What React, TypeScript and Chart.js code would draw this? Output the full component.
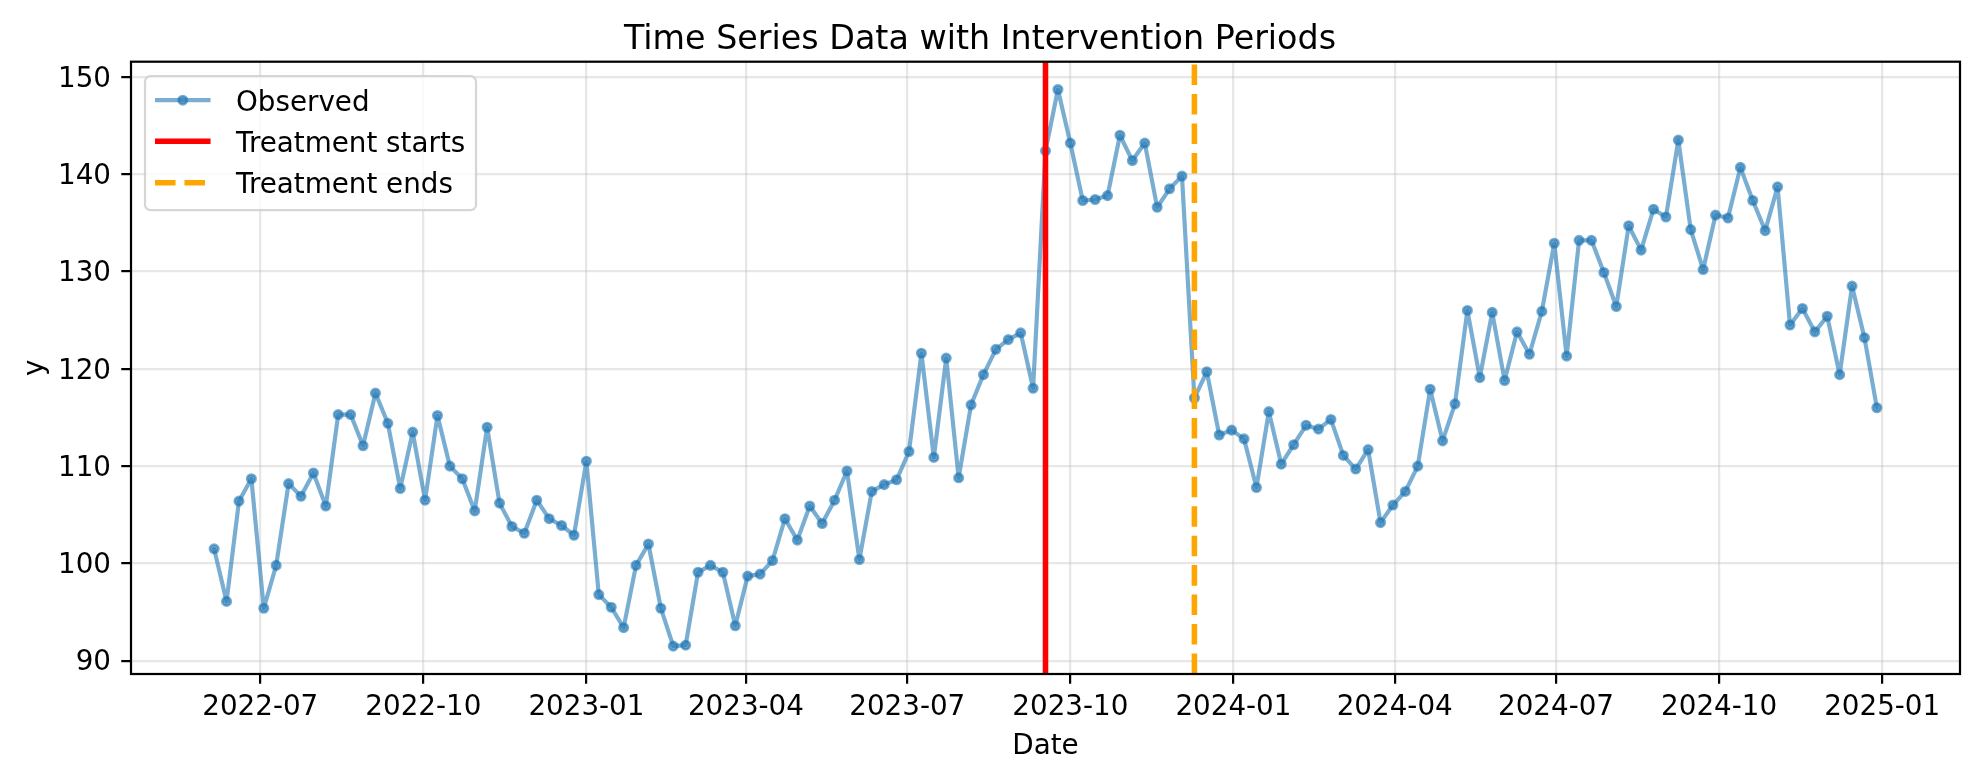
import React, { useEffect, useRef } from "react";
import { Chart, registerables } from "chart.js";

Chart.register(...registerables);

// ---------- data ----------
const START_DATE = "2022-06-05"; // weekly (Sundays)
const OBSERVED = [
  101.5, 96.1, 106.4, 108.7, 95.4, 99.8, 108.2, 106.9, 109.3, 105.9,
  115.3, 115.3, 112.1, 117.5, 114.4, 107.7, 113.5, 106.5, 115.2, 110.0,
  108.7, 105.4, 114.0, 106.2, 103.8, 103.1, 106.5, 104.6, 103.9, 102.9,
  110.5, 96.8, 95.5, 93.4, 99.8, 102.0, 95.4, 91.5, 91.6, 99.1,
  99.8, 99.1, 93.6, 98.7, 98.9, 100.3, 104.6, 102.4, 105.9, 104.1,
  106.5, 109.5, 100.4, 107.4, 108.1, 108.6, 111.5, 121.6, 110.9, 121.1,
  108.8, 116.3, 119.4, 122.0, 123.0, 123.7, 118.0, 142.4, 148.7, 143.2,
  137.3, 137.4, 137.8, 144.0, 141.4, 143.2, 136.6, 138.5, 139.8, 117.0,
  119.7, 113.2, 113.7, 112.8, 107.8, 115.6, 110.2, 112.2, 114.2, 113.8,
  114.8, 111.1, 109.7, 111.7, 104.2, 106.0, 107.4, 110.0, 117.9, 112.6,
  116.4, 126.0, 119.1, 125.8, 118.8, 123.8, 121.5, 125.9, 132.9, 121.3,
  133.2, 133.2, 129.9, 126.4, 134.7, 132.2, 136.4, 135.6, 143.5, 134.3,
  130.2, 135.8, 135.5, 140.7, 137.3, 134.2, 138.7, 124.5, 126.2, 123.8,
  125.4, 119.4, 128.5, 123.2, 116.0,
];
const TREATMENT_START = "2023-09-17";
const TREATMENT_END = "2023-12-10";
const X_TICK_LABELS = [
  "2022-07", "2022-10", "2023-01", "2023-04", "2023-07", "2023-10",
  "2024-01", "2024-04", "2024-07", "2024-10", "2025-01",
];
const Y_TICKS = [90, 100, 110, 120, 130, 140, 150];

const TITLE = "Time Series Data with Intervention Periods";
const X_LABEL = "Date";
const Y_LABEL = "y";
const LEGEND_LABELS = ["Observed", "Treatment starts", "Treatment ends"];

// ---------- helpers ----------
const DAY = 86400000;
const PT = 200 / 72;
const FONT = "'DejaVu Sans', 'Noto Sans', sans-serif";
const toMs = (s: string) => {
  const p = s.split("-").map(Number);
  return Date.UTC(p[0], p[1] - 1, p[2] || 1);
};
const DATES = OBSERVED.map((_, i) => toMs(START_DATE) + i * 7 * DAY);
const X_TICKS = X_TICK_LABELS.map(toMs);

const xSpan = DATES[DATES.length - 1] - DATES[0];
const X_MIN = DATES[0] - 0.05 * xSpan;
const X_MAX = DATES[DATES.length - 1] + 0.05 * xSpan;
const yLo = Math.min(...OBSERVED);
const yHi = Math.max(...OBSERVED);
const Y_MIN = yLo - 0.05 * (yHi - yLo);
const Y_MAX = yHi + 0.05 * (yHi - yLo);

const BLUE = "rgba(31,119,180,0.6)";
const RED = "#ff0000";
const ORANGE = "#ffa500";
const DASH = [3.7 * 2 * PT, 1.6 * 2 * PT];

const framePlugin = {
  id: "mplFrame",
  afterDatasetsDraw(chart: any) {
    const { ctx, chartArea: a } = chart;
    ctx.save();
    ctx.strokeStyle = "#000";
    ctx.lineWidth = 0.8 * PT;
    ctx.strokeRect(a.left, a.top, a.right - a.left, a.bottom - a.top);
    ctx.restore();
  },
};

const legendPlugin = {
  id: "mplLegend",
  afterDraw(chart: any) {
    const { ctx, chartArea: a } = chart;
    const fs = 10 * PT;
    const x0 = a.left + 14;
    const y0 = a.top + 14.5;
    const w = 331;
    const h = 134;
    ctx.save();
    ctx.beginPath();
    ctx.roundRect(x0, y0, w, h, 0.2 * fs);
    ctx.fillStyle = "rgba(255,255,255,0.8)";
    ctx.fill();
    ctx.strokeStyle = "rgba(204,204,204,0.8)";
    ctx.lineWidth = 0.8 * PT;
    ctx.stroke();

    const hx0 = x0 + 10;
    const hx1 = hx0 + 2 * fs;
    const tx = x0 + 91;
    const rows = [y0 + 27.5, y0 + 68.5, y0 + 110];

    // Observed
    ctx.lineJoin = "round";
    ctx.strokeStyle = BLUE;
    ctx.lineWidth = 1.5 * PT;
    ctx.beginPath();
    ctx.moveTo(hx0, rows[0] - 3.5);
    ctx.lineTo(hx1, rows[0] - 3.5);
    ctx.stroke();
    ctx.beginPath();
    ctx.arc((hx0 + hx1) / 2, rows[0] - 3.5, 4.15, 0, Math.PI * 2);
    ctx.fillStyle = BLUE;
    ctx.fill();
    ctx.lineWidth = 2.8;
    ctx.stroke();

    // Treatment starts
    ctx.strokeStyle = RED;
    ctx.lineWidth = 2 * PT;
    ctx.beginPath();
    ctx.moveTo(hx0, rows[1] - 3.5);
    ctx.lineTo(hx1, rows[1] - 3.5);
    ctx.stroke();

    // Treatment ends
    ctx.strokeStyle = ORANGE;
    ctx.setLineDash(DASH);
    ctx.beginPath();
    ctx.moveTo(hx0, rows[2] - 3.5);
    ctx.lineTo(hx1, rows[2] - 3.5);
    ctx.stroke();
    ctx.setLineDash([]);

    ctx.fillStyle = "#000";
    ctx.font = `${fs}px ${FONT}`;
    ctx.textBaseline = "middle";
    ctx.textAlign = "left";
    LEGEND_LABELS.forEach((t, i) => ctx.fillText(t, tx, rows[i]));
    ctx.restore();
  },
};

export default function App() {
  const ref = useRef<HTMLCanvasElement | null>(null);

  useEffect(() => {
    document.body.style.margin = "0";
    const canvas = ref.current;
    if (!canvas) return;
    const gridColor = "rgba(176,176,176,0.3)";
    const tickFont = { family: FONT, size: 10 * PT, weight: "normal" as const };

    const chart = new Chart(canvas, {
      type: "line",
      data: {
        datasets: [
          {
            label: LEGEND_LABELS[0],
            data: DATES.map((d, i) => ({ x: d, y: OBSERVED[i] })),
            borderColor: BLUE,
            backgroundColor: BLUE,
            borderWidth: 1.5 * PT,
            borderJoinStyle: "round",
            borderCapStyle: "round",
            pointRadius: 4.15,
            pointBorderWidth: 2.8,
            pointBackgroundColor: BLUE,
            pointBorderColor: BLUE,
            tension: 0,
            order: 2,
          },
          {
            label: LEGEND_LABELS[1],
            data: [
              { x: toMs(TREATMENT_START), y: Y_MIN },
              { x: toMs(TREATMENT_START), y: Y_MAX },
            ],
            borderColor: RED,
            borderWidth: 2 * PT,
            pointRadius: 0,
            order: 1,
          },
          {
            label: LEGEND_LABELS[2],
            data: [
              { x: toMs(TREATMENT_END), y: Y_MIN },
              { x: toMs(TREATMENT_END), y: Y_MAX },
            ],
            borderColor: ORANGE,
            borderWidth: 2 * PT,
            borderDash: DASH,
            pointRadius: 0,
            order: 0,
          },
        ],
      },
      options: {
        responsive: false,
        animation: false,
        devicePixelRatio: 1,
        events: [],
        layout: { padding: { left: 0, right: 19, top: 0, bottom: 0 } },
        plugins: {
          legend: { display: false },
          tooltip: { enabled: false },
          title: {
            display: true,
            text: TITLE,
            color: "#000",
            font: { family: FONT, size: 12 * PT, weight: "normal" },
            padding: { top: 20.5, bottom: 1.2 },
          },
        },
        scales: {
          x: {
            type: "linear",
            min: X_MIN,
            max: X_MAX,
            afterBuildTicks: (scale: any) => {
              scale.ticks = X_TICKS.map((v) => ({ value: v }));
            },
            afterFit: (scale: any) => {
              scale.height = 107;
            },
            ticks: {
              autoSkip: false,
              maxRotation: 0,
              minRotation: 0,
              color: "#000",
              font: tickFont,
              padding: 7,
              callback: (_v: any, i: number) => X_TICK_LABELS[i],
            },
            grid: {
              color: gridColor,
              lineWidth: 0.8 * PT,
              drawTicks: true,
              tickLength: 3.5 * PT,
              tickColor: "#000",
              tickWidth: 0.8 * PT,
            },
            border: { display: false },
            title: {
              display: true,
              text: X_LABEL,
              color: "#000",
              font: tickFont,
              padding: { top: 17.3, bottom: 17.3 },
            },
          },
          y: {
            type: "linear",
            min: Y_MIN,
            max: Y_MAX,
            afterBuildTicks: (scale: any) => {
              scale.ticks = Y_TICKS.map((v) => ({ value: v }));
            },
            afterFit: (scale: any) => {
              scale.width = 131;
            },
            ticks: {
              color: "#000",
              font: tickFont,
              padding: 10.3,
              labelOffset: 2.5,
              callback: (v: any) => String(v),
            },
            grid: {
              color: gridColor,
              lineWidth: 0.8 * PT,
              drawTicks: true,
              tickLength: 3.5 * PT,
              tickColor: "#000",
              tickWidth: 0.8 * PT,
            },
            border: { display: false },
            title: {
              display: true,
              text: Y_LABEL,
              color: "#000",
              font: tickFont,
              padding: { top: 19, bottom: 19 },
            },
          },
        },
      },
      plugins: [framePlugin, legendPlugin],
    });
    return () => chart.destroy();
  }, []);

  return (
    <div style={{ position: "absolute", left: 0, top: 0, width: 1979, height: 781, background: "#fff" }}>
      <canvas ref={ref} width={1979} height={781} style={{ display: "block" }} />
    </div>
  );
}
